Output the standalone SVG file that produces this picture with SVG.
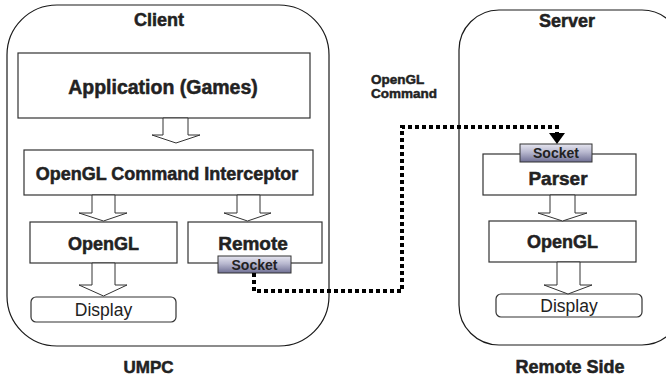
<svg xmlns="http://www.w3.org/2000/svg" width="666" height="383" viewBox="0 0 666 383">
<defs>
<linearGradient id="sock" x1="0" y1="0" x2="0" y2="1">
<stop offset="0" stop-color="#e6e6f0"/>
<stop offset="0.45" stop-color="#b8b8cf"/>
<stop offset="1" stop-color="#6f6f94"/>
</linearGradient>
</defs>
<style>
text{font-family:"Liberation Sans",Arial,sans-serif;fill:#222;text-anchor:middle}
.b{font-weight:bold;stroke:#222;stroke-width:0.5}
.cont{fill:none;stroke:#1a1a1a;stroke-width:1.2}
.box{fill:#fff;stroke:#333;stroke-width:1.2}
.disp{fill:#fff;stroke:#333;stroke-width:1.2}
.sock{fill:url(#sock);stroke:#333;stroke-width:1}
.arr{fill:#fff;stroke:#333;stroke-width:1}
.dot{fill:none;stroke:#000;stroke-width:4;stroke-dasharray:4 3}
</style>
<g id="client">
<rect class="cont" x="7" y="5" width="322" height="341" rx="50"/>
<text class="b" x="159" y="26" font-size="18">Client</text>
</g>
<g id="server">
<rect class="cont" x="459" y="10" width="223" height="335" rx="40"/>
<text class="b" x="567" y="27" font-size="18">Server</text>
</g>
<g id="application">
<rect class="box" x="18" y="53" width="292" height="65"/>
<text class="b" x="163" y="94" font-size="19.5">Application (Games)</text>
</g>
<g id="interceptor">
<rect class="box" x="24" y="150" width="289" height="45"/>
<text class="b" x="167" y="180" font-size="18">OpenGL Command Interceptor</text>
</g>
<g id="opengl-client">
<rect class="box" x="30" y="222" width="147" height="41"/>
<text class="b" x="103.5" y="250" font-size="18">OpenGL</text>
</g>
<g id="remote">
<rect class="box" x="188" y="222" width="134" height="41"/>
<text class="b" x="253" y="250" font-size="19">Remote</text>
</g>
<g id="socket-client">
<rect class="sock" x="218" y="256" width="73" height="17"/>
<text x="254.5" y="269.5" font-size="14" font-weight="bold">Socket</text>
</g>
<g id="display-client">
<rect class="disp" x="31" y="297" width="145" height="25" rx="5"/>
<text x="103.5" y="316" font-size="17.5">Display</text>
</g>
<g id="umpc-label">
<text class="b" x="148.5" y="373" font-size="17">UMPC</text>
</g>
<g id="parser">
<rect class="box" x="483" y="154" width="153" height="41"/>
<text class="b" x="558" y="185" font-size="19">Parser</text>
</g>
<g id="socket-server">
<rect class="sock" x="520" y="144" width="72" height="18"/>
<text x="556" y="158" font-size="14" font-weight="bold">Socket</text>
</g>
<g id="opengl-server">
<rect class="box" x="489" y="221" width="147" height="41"/>
<text class="b" x="562.5" y="248" font-size="18">OpenGL</text>
</g>
<g id="display-server">
<rect class="disp" x="496" y="294" width="146" height="23" rx="5"/>
<text x="569" y="312" font-size="17.5">Display</text>
</g>
<g id="remote-side-label">
<text class="b" x="570" y="373" font-size="18">Remote Side</text>
</g>
<g id="connectors">
<polygon class="arr" points="163,118 188,118 188,135 200,135 176,143 152,135 163,135"/>
<polygon class="arr" points="92,195 115,195 115,213 127,213 103.5,221 79,213 92,213"/>
<polygon class="arr" points="237,195 260,195 260,213 271,213 247.5,221 224,213 237,213"/>
<polygon class="arr" points="92,263 115,263 115,285 127,285 103.5,296 79,285 92,285"/>
<polygon class="arr" points="550,195 575,195 575,213 587,213 562.5,221 538,213 550,213"/>
<polygon class="arr" points="557,262 580,262 580,285 592,285 568,294 544,285 557,285"/>
<path class="dot" d="M254,273 V291 H402 V127 H557 V134"/>
<polygon points="549,133 565,133 557,144" fill="#000"/>
<text class="b" x="371" y="84" font-size="13.5" style="text-anchor:start">OpenGL</text>
<text class="b" x="371" y="98" font-size="13.5" style="text-anchor:start">Command</text>
</g>
</svg>
